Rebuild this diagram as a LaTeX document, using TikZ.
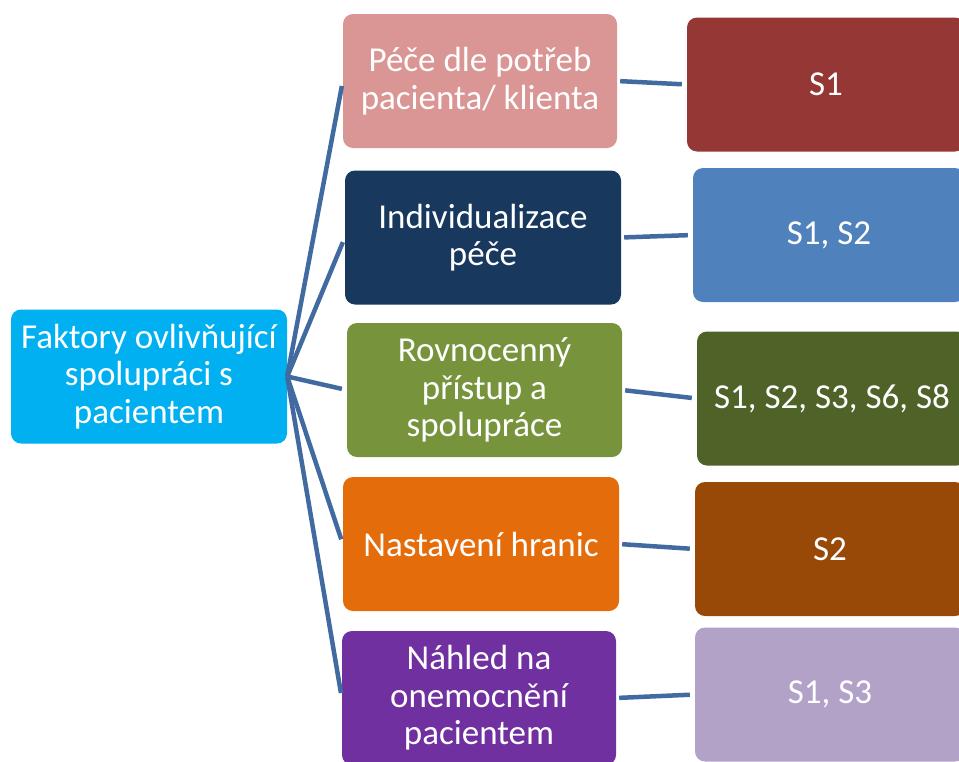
\documentclass[tikz,border=0pt]{standalone}
\usepackage{fontspec}
\setmainfont{Carlito}
\usetikzlibrary{calc}
\definecolor{linkblue}{RGB}{64,106,160}
\definecolor{rootcyan}{RGB}{0,176,240}
\definecolor{pinkbox}{RGB}{218,150,148}
\definecolor{navybox}{RGB}{24,56,94}
\definecolor{olivebox}{RGB}{119,147,60}
\definecolor{orangebox}{RGB}{228,108,10}
\definecolor{purplebox}{RGB}{112,48,160}
\definecolor{redbox}{RGB}{149,55,53}
\definecolor{bluebox}{RGB}{79,129,189}
\definecolor{darkolivebox}{RGB}{79,98,40}
\definecolor{brownbox}{RGB}{152,72,7}
\definecolor{lilacbox}{RGB}{179,162,199}
\tikzset{
  tile/.style={rounded corners=10pt, align=center, text=white, inner sep=2pt,
    font=\fontsize{35}{37.5}\selectfont, minimum height=134pt},
  link/.style={draw=linkblue, line width=4.5pt}
}

\begin{document}
\begin{tikzpicture}[x=1pt,y=-1pt]
		%%%%% START %%%%%
		\useasboundingbox (0,0) rectangle (959,761);
		
		\node[tile, fill=rootcyan, minimum width=276pt] (root) at (149,376.5) {Faktory ovlivňující\\spolupráci s\\pacientem};
		
		\node[tile, fill=pinkbox, minimum width=274pt] (pece) at (480,81) {Péče dle potřeb\\pacienta/ klienta};
		\node[tile, fill=navybox, minimum width=276pt] (indiv) at (483,237.5) {Individualizace\\péče};
		\node[tile, fill=olivebox, minimum width=275pt] (rovno) at (484.5,390) {Rovnocenný\\přístup a\\spolupráce};
		\node[tile, fill=orangebox, minimum width=276pt] (hranice) at (481,544) {Nastavení hranic};
		\node[tile, fill=purplebox, minimum width=274pt] (nahled) at (479,698) {Náhled na\\onemocnění\\pacientem};
		
		\node[tile, fill=redbox, minimum width=278pt] (sA) at (826,84.5) {S1};
		\node[tile, fill=bluebox, minimum width=272pt] (sB) at (829,235) {S1, S2};
		\node[tile, fill=darkolivebox, minimum width=270pt] (sC) at (832,398.5) {S1, S2, S3, S6, S8};
		\node[tile, fill=brownbox, minimum width=270pt] (sD) at (830,549) {S2};
		\node[tile, fill=lilacbox, minimum width=270pt] (sE) at (830,694.5) {S1, S3};
		
		\foreach \mid in {pece,indiv,rovno,hranice,nahled}
			\draw[link, shorten >=5pt] (root.east) -- (\mid.west);
		
		\draw[link, shorten <=3pt, shorten >=5pt] (pece.east) -- (sA.west);
		\draw[link, shorten <=3pt, shorten >=5pt] (indiv.east) -- (sB.west);
		\draw[link, shorten <=3pt, shorten >=5pt] (rovno.east) -- (sC.west);
		\draw[link, shorten <=3pt, shorten >=5pt] (hranice.east) -- (sD.west);
		\draw[link, shorten <=3pt, shorten >=5pt] (nahled.east) -- (sE.west);
		%%%%% END %%%%%
	\end{tikzpicture}
\end{document}
